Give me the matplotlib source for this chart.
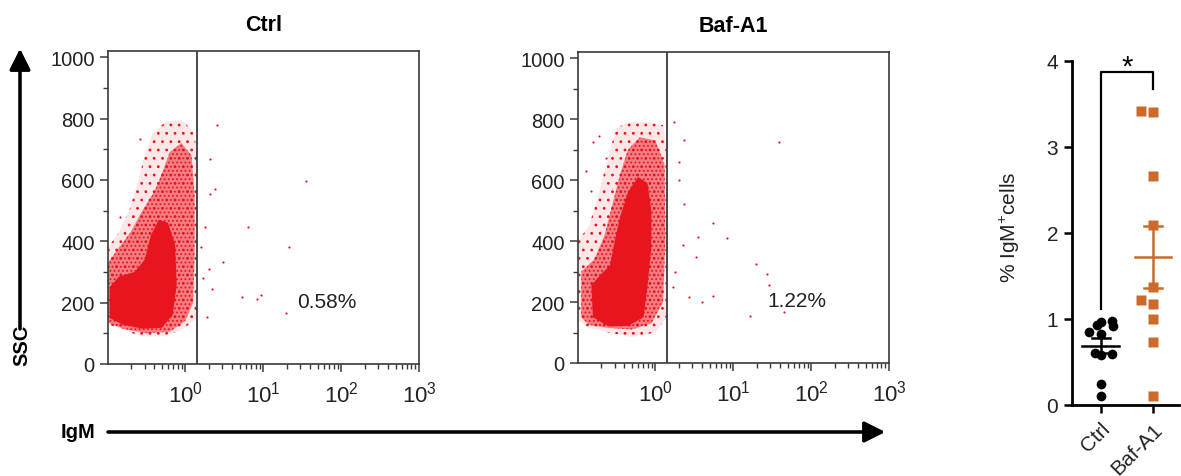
import numpy as np
import matplotlib
matplotlib.use('Agg')
import matplotlib.pyplot as plt
from matplotlib.patches import Polygon
from matplotlib.ticker import LogLocator, NullFormatter

plt.rcParams['font.family'] = ['Liberation Sans', 'DejaVu Sans']
plt.rcParams['mathtext.fontset'] = 'custom'
plt.rcParams['mathtext.rm'] = 'Liberation Sans'
plt.rcParams['mathtext.it'] = 'Liberation Sans:italic'
plt.rcParams['mathtext.bf'] = 'Liberation Sans:bold'
plt.rcParams['hatch.linewidth'] = 0.8

# ---- flow panels: outlines of the event cloud, (log10 IgM, SSC)
ctrl_outer = [(-0.99, 130), (-0.99, 380), (-0.85, 430), (-0.72, 500), (-0.62, 580), (-0.52, 680),
              (-0.42, 750), (-0.25, 790), (-0.05, 795), (0.10, 760), (0.15, 700), (0.15, 150),
              (-0.05, 110), (-0.30, 90), (-0.55, 90), (-0.80, 110)]
ctrl_mid = [(-0.99, 135), (-0.99, 330), (-0.85, 380), (-0.70, 430), (-0.55, 500), (-0.40, 560),
            (-0.30, 620), (-0.20, 690), (-0.05, 720), (0.08, 680), (0.12, 550), (0.12, 350),
            (0.10, 200), (0.00, 140), (-0.20, 105), (-0.50, 100), (-0.80, 115)]
ctrl_core = [(-0.97, 150), (-0.97, 250), (-0.85, 285), (-0.65, 300), (-0.52, 340), (-0.44, 420),
             (-0.34, 470), (-0.22, 460), (-0.13, 390), (-0.11, 260), (-0.16, 160), (-0.30, 118),
             (-0.55, 115), (-0.80, 128)]

baf_outer = [(-0.99, 140), (-0.99, 400), (-0.85, 450), (-0.72, 560), (-0.60, 680), (-0.50, 770),
             (-0.35, 790), (-0.10, 790), (0.10, 780), (0.15, 700), (0.15, 150), (0.00, 100),
             (-0.30, 85), (-0.60, 100), (-0.85, 115)]
baf_mid = [(-0.95, 150), (-0.95, 300), (-0.78, 340), (-0.65, 420), (-0.55, 520), (-0.45, 620),
           (-0.35, 700), (-0.20, 740), (0.00, 730), (0.12, 650), (0.13, 400), (0.10, 200),
           (-0.05, 130), (-0.30, 110), (-0.60, 115), (-0.85, 125)]
baf_core = [(-0.80, 150), (-0.82, 255), (-0.70, 290), (-0.58, 320), (-0.52, 400), (-0.45, 480),
            (-0.35, 560), (-0.22, 610), (-0.10, 590), (-0.05, 500), (-0.05, 380), (-0.10, 250),
            (-0.15, 150), (-0.35, 122), (-0.60, 120)]

# single events outside the main cloud (IgM, SSC)
ctrl_evt_x = [2.55, 35.7, 6.4, 21.3, 3.05, 5.3, 8.3, 9.4, 19.6, 1.9, 2.05, 2.4, 2.1, 1.8, 2.2, 2.0,
              1.7, 1.6, 0.265, 0.147]
ctrl_evt_y = [778, 597, 446, 381, 332, 218, 212, 225, 166, 153, 668, 570, 554, 446, 244, 309,
              280, 380, 733, 479]
baf_evt_x = [38.6, 5.46, 3.5, 8.4, 3.3, 19.4, 26.8, 28.7, 2.75, 4.0, 5.5, 16.3, 45, 2.27, 1.72,
             2.36, 2.0, 2.0, 2.36, 1.8, 1.7, 0.19, 0.16, 0.23, 0.15, 0.13]
baf_evt_y = [724, 460, 412, 410, 348, 326, 293, 257, 216, 200, 220, 153, 167, 386, 790,
             730, 660, 600, 520, 300, 250, 746, 724, 672, 563, 630]

gate = 1.43
ctrl_label = '0.58%'
baf_label = '1.22%'

# ---- summary panel
groups = ['Ctrl', 'Baf-A1']
ctrl_pct = [0.98, 0.97, 0.93, 0.92, 0.85, 0.83, 0.60, 0.59, 0.58, 0.25, 0.10]
ctrl_jit = [0.22, 0.0, -0.08, 0.24, -0.22, 0.0, -0.10, 0.22, 0.0, 0.0, 0.0]
baf_pct = [3.42, 3.41, 2.66, 2.09, 1.37, 1.22, 1.18, 1.00, 0.73, 0.11]
baf_jit = [-0.22, 0.0, 0.0, 0.0, 0.0, -0.22, 0.0, 0.0, 0.0, 0.0]

red = '#E8141E'
orange = '#CC6A2C'
frame = '#3a3a3a'

fig = plt.figure(figsize=(11.81, 4.77), dpi=100)
W, H = 1181, 477


def px_axes(l, t, r, b):
    return fig.add_axes([l / W, (H - b) / H, (r - l) / W, (b - t) / H])


def flow_panel(ax, outer, mid, core, ex, ey, label, title):
    # sparse fringe and medium-density body drawn as dotted textures, core solid
    layers = [(outer, 0.10, '..'), (mid, 0.50, '....'), (core, 1.0, None)]
    for poly, a, hatch in layers:
        pts = [(10 ** lx, y) for lx, y in poly]
        ax.add_patch(Polygon(pts, closed=True, facecolor=red, edgecolor='none', alpha=a, lw=0))
        if hatch:
            ax.add_patch(Polygon(pts, closed=True, facecolor='none', edgecolor=red, lw=0,
                                 hatch=hatch))
    ax.scatter(ex, ey, s=2.5, color=red, linewidths=0)
    ax.axvline(gate, color=frame, lw=1.3)
    ax.set_xscale('log')
    ax.set_xlim(0.102, 1000)
    ax.set_ylim(0, 1020)
    ax.set_xticks([1, 10, 100, 1000])
    ax.xaxis.set_minor_locator(LogLocator(base=10, subs=np.arange(2, 10)))
    ax.xaxis.set_minor_formatter(NullFormatter())
    ax.set_yticks(np.arange(0, 1001, 200))
    ax.set_yticks(np.arange(100, 1000, 200), minor=True)
    ax.tick_params(which='major', length=6, width=1.1, color=frame, labelsize=14.5,
                   labelcolor='#222')
    ax.tick_params(which='minor', length=3.5, width=1.0, color=frame)
    ax.tick_params(axis='x', which='major', pad=6, labelsize=16)
    for s in ax.spines.values():
        s.set_color(frame)
        s.set_linewidth(1.2)
    ax.text(66, 205, label, fontsize=15, ha='center', va='center', color='#222')
    ax.set_title(title, fontsize=15.5, fontweight='bold', pad=15)


ax1 = px_axes(108, 52, 419, 365)
flow_panel(ax1, ctrl_outer, ctrl_mid, ctrl_core, ctrl_evt_x, ctrl_evt_y, ctrl_label, 'Ctrl')
ax2 = px_axes(578, 53, 889, 364)
flow_panel(ax2, baf_outer, baf_mid, baf_core, baf_evt_x, baf_evt_y, baf_label, 'Baf-A1')

# axis arrows
ann = dict(arrowstyle='-|>', lw=2.2, color='black', mutation_scale=32, shrinkA=0, shrinkB=0)
fig.add_artist(plt.annotate('', xy=(20, H - 50), xytext=(20, H - 330), xycoords='figure pixels',
                            textcoords='figure pixels', arrowprops=ann))
fig.add_artist(plt.annotate('', xy=(885, H - 433), xytext=(108, H - 433), xycoords='figure pixels',
                            textcoords='figure pixels', arrowprops=ann))
fig.text(22 / W, (H - 345) / H, 'SSC', rotation=90, fontsize=14.5, fontweight='bold',
         ha='center', va='center')
fig.text(78 / W, (H - 433) / H, 'IgM', fontsize=14.5, fontweight='bold', ha='center', va='center')

# summary scatter
ax3 = px_axes(1072, 62, 1179, 406)
for i, (vals, jit, col, mk, ms) in enumerate([(ctrl_pct, ctrl_jit, 'black', 'o', 7),
                                               (baf_pct, baf_jit, orange, 's', 6.5)]):
    v = np.array(vals)
    ax3.plot(i + np.array(jit), v, mk, color=col, ms=ms, mec='none', clip_on=False, zorder=3)
    m = v.mean()
    sem = v.std(ddof=1) / np.sqrt(len(v))
    ax3.plot([i - 0.35, i + 0.35], [m, m], color=col, lw=1.8, zorder=4)
    ax3.plot([i, i], [m - sem, m + sem], color=col, lw=1.8, zorder=4)
    for yy in (m - sem, m + sem):
        ax3.plot([i - 0.17, i + 0.17], [yy, yy], color=col, lw=1.8, zorder=4)

ax3.plot([0, 0, 1, 1], [1.12, 3.87, 3.87, 3.67], color='black', lw=1.6, clip_on=False)
ax3.text(0.5, 3.84, '*', fontsize=21, ha='center', va='baseline')
ax3.set_xlim(-0.55, 1.5)
ax3.set_ylim(0, 4)
ax3.set_yticks([0, 1, 2, 3, 4])
ax3.set_xticks([0, 1])
ax3.set_xticklabels(groups, rotation=45, ha='right', rotation_mode='anchor')
for s in ('top', 'right'):
    ax3.spines[s].set_visible(False)
for s in ('left', 'bottom'):
    ax3.spines[s].set_linewidth(2)
ax3.tick_params(length=6, width=1.8, labelsize=15, labelcolor='#222', pad=4)
ax3.set_ylabel('% IgM$^{+}$cells', fontsize=15, color='#222')
ax3.yaxis.set_label_coords(-0.47, 0.52)

fig.savefig('out.png', dpi=100)
